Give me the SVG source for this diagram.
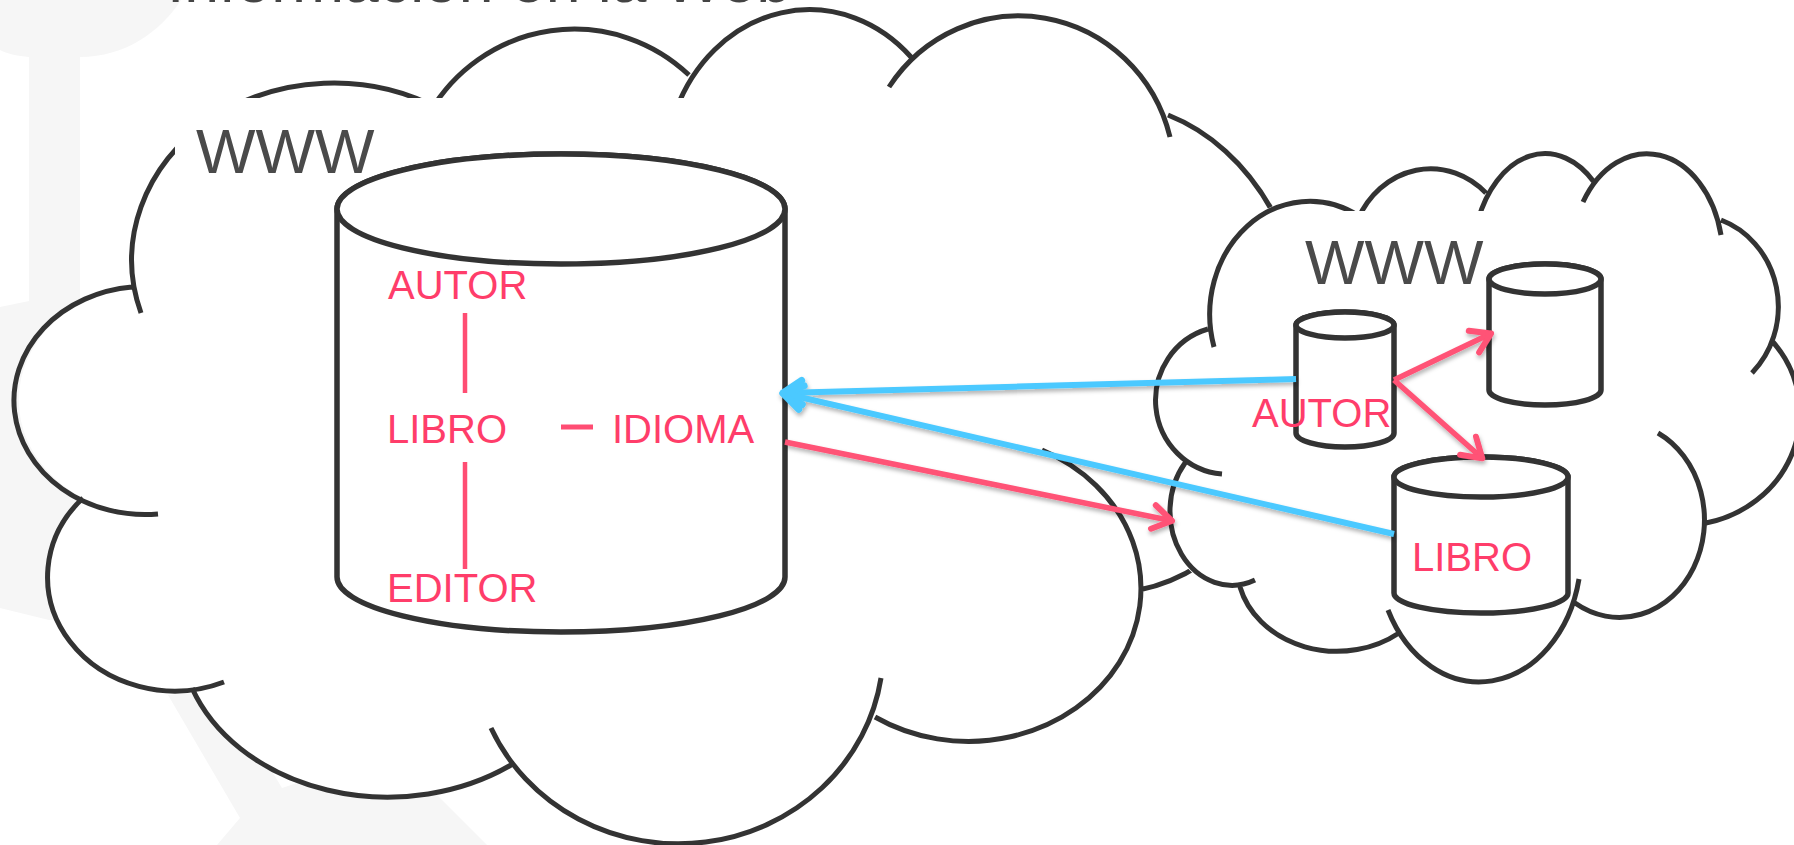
<svg xmlns="http://www.w3.org/2000/svg" width="1794" height="845" viewBox="0 0 1794 845">
<style>
text{font-family:"Liberation Sans",Arial,sans-serif}
.fill{fill:#fff;stroke:none}
.out{fill:none;stroke:#333;stroke-width:5}
.can{fill:#fff;stroke:#333;stroke-width:5.5;stroke-linejoin:round}
.www{font-size:63px;fill:#4a4a4a}
.lbl{font-size:40px;fill:#ff3d6a}
.rel{stroke:#ff4d73;fill:none}
.blue{stroke:#4cc9ff;stroke-width:6;fill:none}
.pink{stroke:#ff5276;stroke-width:5.5;fill:none}
</style>
<defs>
<filter id="sh" filterUnits="userSpaceOnUse" x="0" y="0" width="1794" height="845"><feDropShadow dx="1" dy="3" stdDeviation="2" flood-color="#000" flood-opacity=".3"/></filter>
<marker id="ab" markerUnits="userSpaceOnUse" markerWidth="40" markerHeight="40" refX="0" refY="0" orient="auto-start-reverse" overflow="visible"><path d="M-20,-12 L-1,0 L-20,12" fill="none" stroke="#4cc9ff" stroke-width="7" stroke-linecap="round" stroke-linejoin="round"/></marker>
<marker id="ap" markerUnits="userSpaceOnUse" markerWidth="40" markerHeight="40" refX="0" refY="0" orient="auto" overflow="visible"><path d="M-20,-12 L-1,0 L-20,12" fill="none" stroke="#ff5276" stroke-width="6" stroke-linecap="round" stroke-linejoin="round"/></marker>
</defs>
<rect width="1794" height="845" fill="#fff"/>
<g id="watermark" fill="#f6f6f6">
<path d="M0,0 H181 C160,32 125,57 80,57 V301 L29,305 V57 C18,56 8,54 0,50 Z"/>
<path d="M0,307 L29,301 H120 V620 H49 L0,608 Z"/>
<path d="M168,695 L240,818 L217,845 H487 L437,795 L400,770 L297,783 L282,788 L273,773 L230,690 Z"/>
</g>
<text x="167" y="2" font-size="62.5" fill="#444">Información en la Web</text>
<g id="cloud-big">
<path class="fill" d="M132,287 A202 177 0 0 1 441,110 A168 170 0 0 1 689,75 A145 165 0 0 1 911,57 A156 160 0 0 1 1168,115 A200 245 0 0 1 1139,590 A172.5 153 0 0 1 875,717 A205 195 0 0 1 511,765 A208 165 0 0 1 192,690 A127 114 0 0 1 83,498 A131 114 0 0 1 132,287 Z"/>
<path class="out" d="M141,313 A202 177 0 0 1 441,110 M430,112 A168 170 0 0 1 689,75 M676,110 A145 165 0 0 1 911,57 M889,87 A156 160 0 0 1 1170,137 M1168,115 A200 245 0 0 1 1139,590 M1042,450 A172.5 153 0 1 1 875,717 M881,678 A205 195 0 0 1 491,728 M511,765 A208 165 0 0 1 192,688 M224,682 A127 114 0 0 1 83,498 M158,514 A131 114 0 0 1 132,287"/>
<rect x="175" y="98" width="512" height="100" fill="#fff"/>
<text class="www" x="196" y="173">WWW</text>
</g>
<g id="db-main">
<path class="can" d="M337,209 V577 A224 55 0 0 0 785,577 V209 A224 55 0 0 0 337,209 Z"/>
<ellipse class="can" cx="561" cy="209" rx="224" ry="55"/>
<text class="lbl" x="388" y="299">AUTOR</text>
<text class="lbl" x="387" y="443">LIBRO</text>
<text class="lbl" x="612" y="443">IDIOMA</text>
<text class="lbl" x="387" y="602">EDITOR</text>
</g>
<g id="cloud-small">
<path class="fill" d="M1208,329 A100 113 0 0 1 1359,216 A81 90 0 0 1 1486,193 A73 110 0 0 1 1594,182 A76 105 0 0 1 1721,220 A86 92 0 0 1 1773,342 A118 112 0 0 1 1706,523 A85 97.5 0 0 1 1575,603 A102 130 0 0 1 1399,633 A100 85 0 0 1 1240,587 A62 74 0 0 1 1185,463 A72 74 0 0 1 1208,329 Z"/>
<path class="out" d="M1214,347 A100 113 0 0 1 1359,216 M1358,219 A81 90 0 0 1 1486,193 M1478,220 A73 110 0 0 1 1594,182 M1583,202 A76 105 0 0 1 1721,235 M1721,220 A86 92 0 0 1 1752,373 M1773,342 A118 112 0 0 1 1706,523 M1658,433 A85 97.5 0 1 1 1575,603 M1579,579 A102 130 0 0 1 1388,610 M1399,633 A100 85 0 0 1 1240,587 M1255,580 A62 74 0 0 1 1185,463 M1222,474 A72 74 0 0 1 1208,329"/>
<rect x="1308" y="211" width="178" height="70" fill="#fff"/>
<text class="www" x="1305" y="284">WWW</text>
</g>
<g id="db-autor">
<path class="can" d="M1296,325 V433 A49 14 0 0 0 1394,433 V325 A49 13 0 0 0 1296,325 Z"/>
<ellipse class="can" cx="1345" cy="325" rx="49" ry="13"/>
</g>
<g id="db-right">
<path class="can" d="M1489,279 V390 A56 15 0 0 0 1601,390 V279 A56 15 0 0 0 1489,279 Z"/>
<ellipse class="can" cx="1545" cy="279" rx="56" ry="15"/>
</g>
<g id="db-libro">
<path class="can" d="M1394,477 V593 A87 20 0 0 0 1568,593 V477 A87 20 0 0 0 1394,477 Z"/>
<ellipse class="can" cx="1481" cy="477" rx="87" ry="20"/>
</g>
<text class="lbl" x="1252" y="427">AUTOR</text>
<text class="lbl" x="1412" y="571">LIBRO</text>
<g id="connectors">
<path class="rel" stroke-width="4.5" d="M465,313 V393"/>
<path class="rel" stroke-width="4.5" d="M465,462 V569"/>
<path class="rel" stroke-width="5" d="M561,427 H593"/>
<g filter="url(#sh)">
<path class="blue" d="M1296,379 L782,393" marker-end="url(#ab)"/>
<path class="blue" d="M1394,534 L782,393" marker-end="url(#ab)"/>
<path class="pink" d="M785,442 L1173,521" marker-end="url(#ap)"/>
<path class="pink" d="M1394,380 L1492,333" marker-end="url(#ap)"/>
<path class="pink" d="M1394,380 L1483,459" marker-end="url(#ap)"/>
</g>
</g>
</svg>
